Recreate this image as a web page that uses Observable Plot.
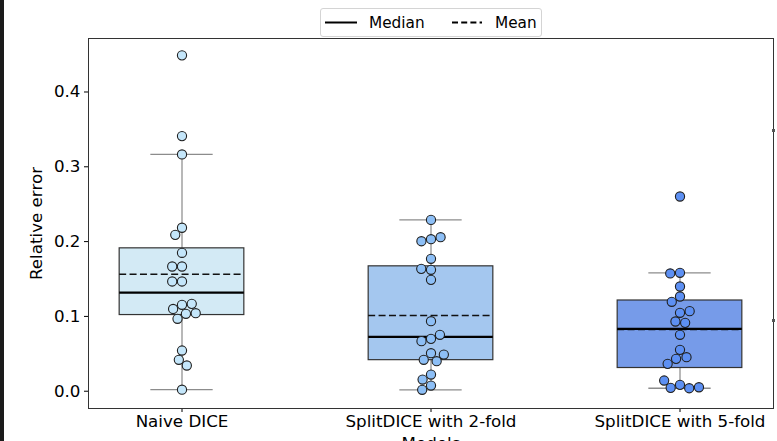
<!DOCTYPE html>
<html><head><meta charset="utf-8">
<script src="https://cdn.jsdelivr.net/npm/d3@7"></script>
<script src="https://cdn.jsdelivr.net/npm/@observablehq/plot@0.6"></script>
<style>
html,body{margin:0;padding:0;background:#fff;overflow:hidden;}
#wrap{position:relative;width:777px;height:441px;overflow:hidden;font-family:"DejaVu Sans",sans-serif;background:#fff;}
#chart{position:absolute;left:0;top:0;}
#legend{position:absolute;left:320px;top:8px;width:220px;height:27px;border:1px solid #d4d4d4;border-radius:3px;background:rgba(255,255,255,0.85);}
#legend svg{position:absolute;left:0;top:0;overflow:visible;}
.bar{position:absolute;left:0;top:0;width:4px;height:441px;background:#1b1b1b;}
.mk{position:absolute;width:3px;height:3px;background:#555;}
</style></head><body>
<div id="wrap"><div id="chart"></div><div id="legend"></div><div class="bar"></div>
<div class="mk" style="left:772px;top:129px"></div><div class="mk" style="left:772px;top:319px"></div></div>
<script>
const categories = ["Naive DICE", "SplitDICE with 2-fold", "SplitDICE with 5-fold"];
const naiveValues = [0.449, 0.341, 0.3165, 0.2185, 0.209, 0.185, 0.1667, 0.1667, 0.1467, 0.1467,
  0.1155, 0.110, 0.1168, 0.1035, 0.1043, 0.0968, 0.0544, 0.042, 0.0344, 0.002];
const twoFoldValues = [0.229, 0.2032, 0.2005, 0.2059, 0.177, 0.1623, 0.1636, 0.1489, 0.0936, 0.070,
  0.0669, 0.0754, 0.0508, 0.042, 0.0401, 0.049, 0.0223, 0.0156, 0.0076, 0.0019];
const fiveFoldValues = [0.2603, 0.1583, 0.1574, 0.140, 0.1266, 0.1195, 0.1048, 0.107, 0.0932, 0.0914,
  0.0754, 0.0553, 0.0433, 0.0455, 0.0366, 0.0085, 0.0045, 0.004, 0.0053, 0.0143];
const boxColors = ["#d3eaf5", "#a4c7ef", "#769be9"];
const pointColors = ["#c4e6fa", "#8dbff6", "#5d90f3"];
const yTicks = [0, 0.1, 0.2, 0.3, 0.4];
const yLimits = [-0.0231, 0.4715];
const legendLabels = ["Median", "Mean"];

const series = [naiveValues, twoFoldValues, fiveFoldValues];
const points = series.flatMap((vals, i) => vals.map(v => ({cat: categories[i], v, color: pointColors[i]})));
const stats = series.map((vals, i) => {
  const s = vals.slice().sort(d3.ascending);
  const q1 = d3.quantileSorted(s, 0.25), q3 = d3.quantileSorted(s, 0.75), iqr = q3 - q1;
  const lo = d3.min(s.filter(v => v >= q1 - 1.5 * iqr));
  const hi = d3.max(s.filter(v => v <= q3 + 1.5 * iqr));
  return {cat: categories[i], q1, q3, med: d3.median(s), mean: d3.mean(s), lo, hi, color: boxColors[i]};
});

const chart = Plot.plot({
  width: 777, height: 441,
  marginTop: 38, marginBottom: 33, marginLeft: 87, marginRight: 4,
  style: {fontFamily: "DejaVu Sans", fontSize: "16.7px", color: "#000", background: "transparent", overflow: "visible"},
  fx: {domain: categories, paddingInner: 0.25, paddingOuter: 0, label: "Models", labelAnchor: "center",
       labelOffset: 40, tickSize: 4, tickPadding: 3},
  x: {domain: [-0.75, 0.75], axis: null},
  y: {domain: yLimits, ticks: yTicks, tickFormat: ".1f", tickSize: 4, tickPadding: 4,
      label: "Relative error", labelAnchor: "center", labelArrow: "none", labelOffset: 58},
  color: {type: "identity"},
  marks: [
    Plot.ruleX(stats, {fx: "cat", x: 0, y1: "lo", y2: "q1", stroke: "#a0a0a0", strokeWidth: 1.5}),
    Plot.ruleX(stats, {fx: "cat", x: 0, y1: "q3", y2: "hi", stroke: "#a0a0a0", strokeWidth: 1.5}),
    Plot.ruleY(stats, {fx: "cat", y: "hi", x1: -0.25, x2: 0.25, stroke: "#8c8c8c", strokeWidth: 1.3}),
    Plot.ruleY(stats, {fx: "cat", y: "lo", x1: -0.25, x2: 0.25, stroke: "#8c8c8c", strokeWidth: 1.3}),
    Plot.rect(stats, {fx: "cat", x1: -0.5, x2: 0.5, y1: "q1", y2: "q3", fill: "color", stroke: "#333", strokeWidth: 1.2}),
    Plot.ruleY(stats, {fx: "cat", y: "mean", x1: -0.5, x2: 0.5, stroke: "#111", strokeWidth: 1.6, strokeDasharray: "7,3.4"}),
    Plot.ruleY(stats, {fx: "cat", y: "med", x1: -0.5, x2: 0.5, stroke: "#000", strokeWidth: 2.2}),
    Plot.dot(points, Plot.dodgeX({anchor: "middle", padding: 0.6},
      {fx: "cat", y: "v", r: 4.6, fill: "color", stroke: "#1f1f1f", strokeWidth: 1.1, fillOpacity: 1})),
    Plot.frame({facet: "super", stroke: "#333", strokeWidth: 1})
  ]
});
document.getElementById("chart").appendChild(chart);

// legend
const lg = d3.select("#legend").append("svg").attr("width", 220).attr("height", 27);
const items = [{x0: 4, x1: 36, tx: 48, dash: null}, {x0: 131, x1: 161, tx: 174, dash: "6,3.2"}];
items.forEach((it, i) => {
  lg.append("line").attr("x1", it.x0).attr("x2", it.x1).attr("y1", 13.5).attr("y2", 13.5)
    .attr("stroke", "#000").attr("stroke-width", 2).attr("stroke-dasharray", it.dash);
  lg.append("text").attr("x", it.tx).attr("y", 13.5).attr("dy", "0.35em")
    .attr("font-family", "DejaVu Sans").attr("font-size", "15.3px").attr("fill", "#000").text(legendLabels[i]);
});
</script></body></html>
